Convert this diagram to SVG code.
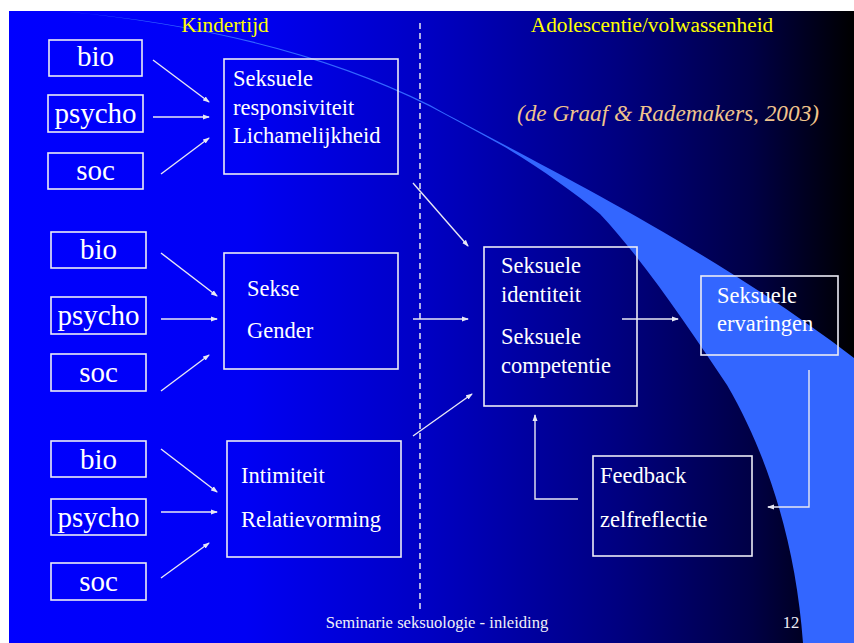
<svg xmlns="http://www.w3.org/2000/svg" width="854" height="643" viewBox="0 0 854 643">
  <style>
    .box { fill: none; stroke: #ececf6; stroke-width: 1.6; }
    .lbl { font-family: "Liberation Serif", "Times New Roman", serif; fill: #ffffff; }
    .small { font-size: 29px; text-anchor: middle; }
    .mid { font-size: 22.5px; }
    .head { font-family: "Liberation Serif", "Times New Roman", serif; fill: #ffff00; font-size: 21.3px; text-anchor: middle; }
    .cite { font-family: "Liberation Serif", "Times New Roman", serif; fill: #f0c48c; font-size: 23.3px; font-style: italic; text-anchor: middle; }
    .foot { font-family: "Liberation Serif", "Times New Roman", serif; fill: #f0f0f8; font-size: 16.6px; }
    .conn line, .conn polyline { stroke: #e8e8f4; stroke-width: 1.4; fill: none; }
    .arr { marker-end: url(#ah); }
  </style>
  <defs>
    <linearGradient id="bg" x1="9" y1="0" x2="854" y2="0" gradientUnits="userSpaceOnUse">
      <stop offset="0" stop-color="#0000ff"/>
      <stop offset="0.28" stop-color="#0000f4"/>
      <stop offset="0.5" stop-color="#0000c2"/>
      <stop offset="0.72" stop-color="#000080"/>
      <stop offset="0.88" stop-color="#000045"/>
      <stop offset="1" stop-color="#000000"/>
    </linearGradient>
    <marker id="ah" markerWidth="7" markerHeight="6" refX="6" refY="3" orient="auto" markerUnits="userSpaceOnUse">
      <path d="M0,0.5 L7,3 L0,5.5 z" fill="#e8e8f4"/>
    </marker>
  </defs>

  <rect x="0" y="0" width="854" height="643" fill="#ffffff"/>
  <rect x="9" y="11" width="845" height="632" fill="url(#bg)"/>
  <path d="M60,11 Q280,30 430,105 C510,150 700,240 854,358 L854,643 L803,643 C796,545 768,455 727,385 C690,330 645,262 600,214 C575,193 540,168 503,146 Q465,125 430,106.5 Q280,31.5 60,11 Z" fill="#3366ff"/>

  <line x1="420" y1="23" x2="420" y2="612" stroke="#e8e8f4" stroke-width="1.5" stroke-dasharray="6 4"/>

  <text class="head" x="225" y="32">Kindertijd</text>
  <text class="head" x="652" y="32">Adolescentie/volwassenheid</text>
  <text class="cite" x="668" y="121">(de Graaf &amp; Rademakers, 2003)</text>

  <g id="bio1"><rect class="box" x="49" y="40" width="93" height="36"/><text class="lbl small" x="95.5" y="66">bio</text></g>
  <g id="psycho1"><rect class="box" x="48" y="95" width="95" height="37"/><text class="lbl small" x="95.5" y="123">psycho</text></g>
  <g id="soc1"><rect class="box" x="48" y="153" width="95" height="36"/><text class="lbl small" x="95.5" y="180">soc</text></g>
  <g id="responsiviteit"><rect class="box" x="224" y="59" width="174" height="115"/>
    <text class="lbl mid" x="233" y="86">Seksuele</text>
    <text class="lbl mid" x="233" y="115">responsiviteit</text>
    <text class="lbl mid" x="233" y="143">Lichamelijkheid</text></g>

  <g id="bio2"><rect class="box" x="51" y="232" width="95" height="36"/><text class="lbl small" x="98.5" y="259">bio</text></g>
  <g id="psycho2"><rect class="box" x="51" y="297" width="95" height="37"/><text class="lbl small" x="98.5" y="325">psycho</text></g>
  <g id="soc2"><rect class="box" x="51" y="354" width="95" height="37"/><text class="lbl small" x="98.5" y="382">soc</text></g>
  <g id="gender"><rect class="box" x="224" y="253" width="174" height="116"/>
    <text class="lbl mid" x="247" y="296">Sekse</text>
    <text class="lbl mid" x="247" y="338">Gender</text></g>

  <g id="bio3"><rect class="box" x="51" y="441" width="95" height="36"/><text class="lbl small" x="98.5" y="469">bio</text></g>
  <g id="psycho3"><rect class="box" x="51" y="499" width="95" height="36"/><text class="lbl small" x="98.5" y="527">psycho</text></g>
  <g id="soc3"><rect class="box" x="51" y="563" width="95" height="37"/><text class="lbl small" x="98.5" y="591">soc</text></g>
  <g id="relatie"><rect class="box" x="227" y="441" width="174" height="116"/>
    <text class="lbl mid" x="241" y="483">Intimiteit</text>
    <text class="lbl mid" x="241" y="527">Relatievorming</text></g>

  <g id="identiteit"><rect class="box" x="484" y="247" width="153" height="159"/>
    <text class="lbl mid" x="501" y="273">Seksuele</text>
    <text class="lbl mid" x="501" y="302">identiteit</text>
    <text class="lbl mid" x="501" y="344">Seksuele</text>
    <text class="lbl mid" x="501" y="373">competentie</text></g>

  <g id="ervaringen"><rect class="box" x="701" y="276" width="137" height="79"/>
    <text class="lbl mid" x="717" y="303">Seksuele</text>
    <text class="lbl mid" x="717" y="331">ervaringen</text></g>

  <g id="feedback"><rect class="box" x="593" y="456" width="159" height="100"/>
    <text class="lbl mid" x="600" y="483">Feedback</text>
    <text class="lbl mid" x="600" y="527">zelfreflectie</text></g>

  <g class="conn">
    <line class="arr" x1="153" y1="60" x2="209" y2="102"/>
    <line class="arr" x1="153" y1="117" x2="209" y2="117"/>
    <line class="arr" x1="161" y1="174" x2="209" y2="138"/>
    <line class="arr" x1="161" y1="253" x2="217" y2="296"/>
    <line class="arr" x1="161" y1="319" x2="217" y2="319"/>
    <line class="arr" x1="161" y1="391" x2="209" y2="355"/>
    <line class="arr" x1="161" y1="449" x2="217" y2="492"/>
    <line class="arr" x1="161" y1="512" x2="217" y2="512"/>
    <line class="arr" x1="161" y1="578" x2="209" y2="543"/>
    <line class="arr" x1="413" y1="183" x2="468" y2="246"/>
    <line class="arr" x1="413" y1="319" x2="468" y2="319"/>
    <line class="arr" x1="413" y1="436" x2="472" y2="394"/>
    <line class="arr" x1="622" y1="319" x2="678" y2="319"/>
    <polyline class="arr" points="809,370 809,507 768,507"/>
    <polyline class="arr" points="578,499 535,499 535,415"/>
  </g>

  <text class="foot" x="437" y="628" text-anchor="middle">Seminarie seksuologie - inleiding</text>
  <text class="foot" x="791" y="628" text-anchor="middle">12</text>
</svg>
